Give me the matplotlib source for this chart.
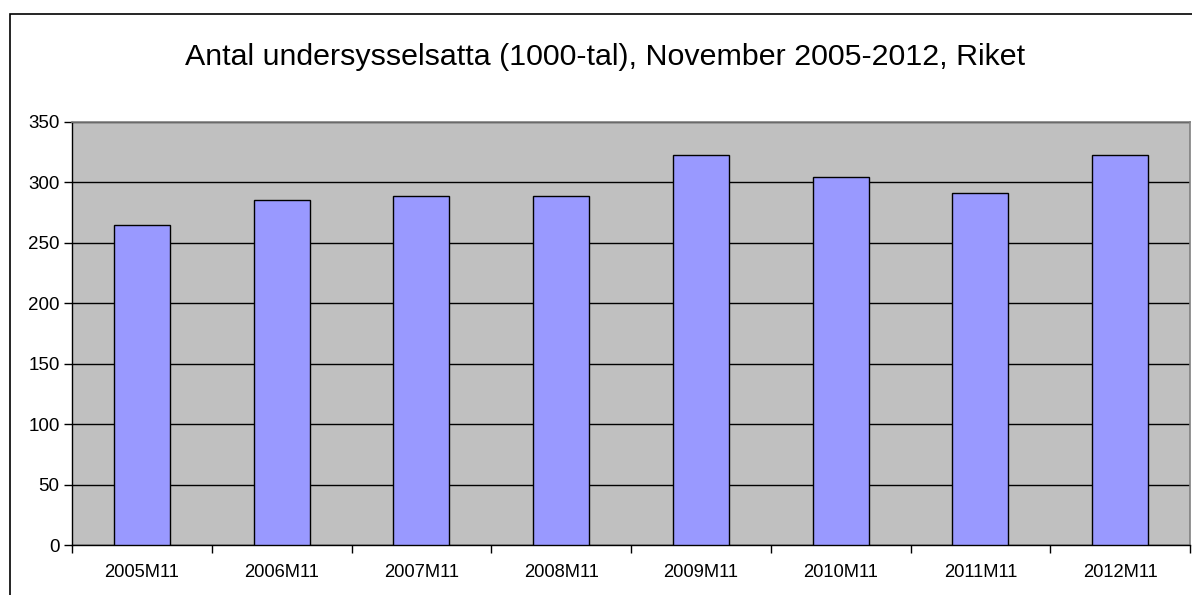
import matplotlib.pyplot as plt
from matplotlib.patches import Rectangle
import numpy as np

plt.rcParams['font.family'] = ['Liberation Sans', 'DejaVu Sans']

categories = ["2005M11", "2006M11", "2007M11", "2008M11",
              "2009M11", "2010M11", "2011M11", "2012M11"]
values = [265, 285.5, 289, 289, 322.5, 304.5, 291, 322.5]
y_ticks = [0, 50, 100, 150, 200, 250, 300, 350]
title = "Antal undersysselsatta (1000-tal), November 2005-2012, Riket"

W, H = 1192, 595
fig = plt.figure(figsize=(W / 100, H / 100), dpi=100)

# outer chart border (only left/top visible in the reference)
fig.patches.append(Rectangle((9.5 / W, -0.1), 1.2, (H - 14) / H + 0.1,
                             transform=fig.transFigure, fill=False,
                             edgecolor="black", lw=1.2))

left, right, top, bottom = 72, 1190, 122, 545
ax = fig.add_axes([left / W, 1 - bottom / H, (right - left) / W, (bottom - top) / H])
ax.set_facecolor("#C0C0C0")

x = np.arange(len(categories))
ax.bar(x, values, width=0.4, color="#9999FF", edgecolor="black", lw=1, zorder=3)

ax.set_xlim(-0.5, len(categories) - 0.5)
ax.set_ylim(0, 350)
ax.set_yticks(y_ticks)
ax.yaxis.grid(True, color="black", lw=1)
ax.set_axisbelow(True)

ax.set_xticks(x)
ax.set_xticklabels(categories, fontsize=13.2)
ax.set_xticks(np.arange(len(categories) + 1) - 0.5, minor=True)
ax.tick_params(axis="x", which="major", length=0, pad=14)
ax.tick_params(axis="x", which="minor", length=6, width=1, direction="out")
ax.tick_params(axis="y", length=6, width=1, direction="out", labelsize=13.5, pad=3)

for s in ("top", "right"):
    ax.spines[s].set_color("#808080")
    ax.spines[s].set_linewidth(1.2)
for s in ("left", "bottom"):
    ax.spines[s].set_color("black")
    ax.spines[s].set_linewidth(1)

fig.text(605 / W, 1 - 57 / H, title, fontsize=21.9, ha="center", va="center")

fig.savefig("out.png", dpi=100)
